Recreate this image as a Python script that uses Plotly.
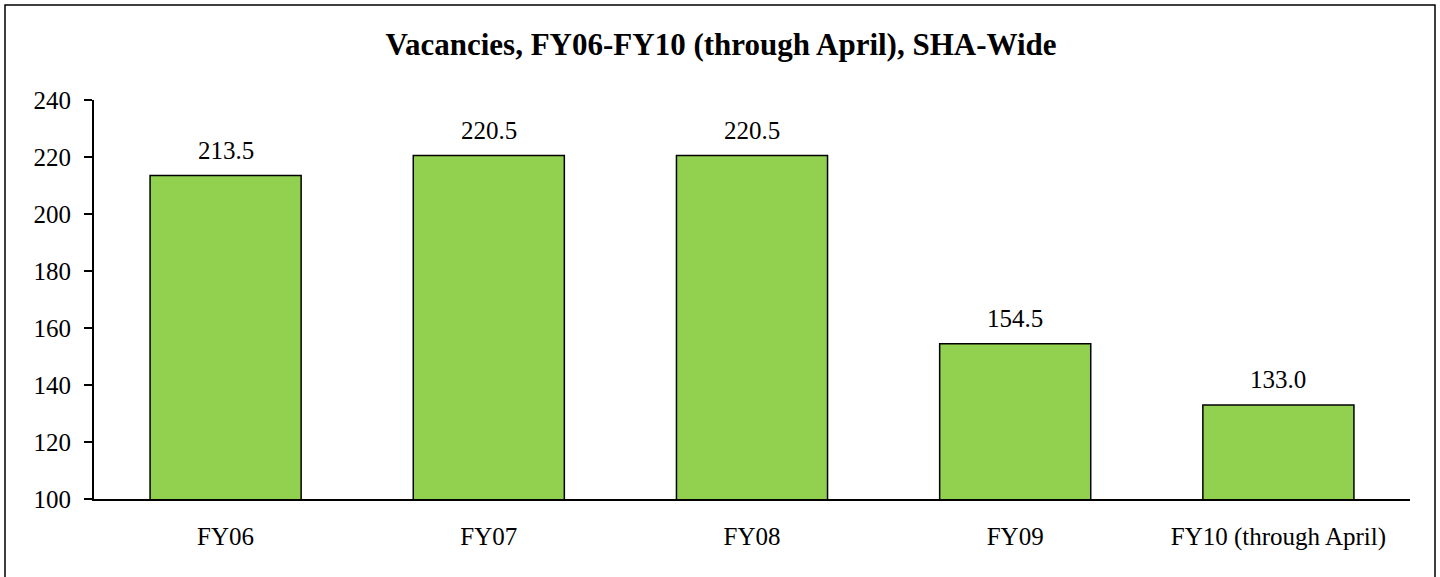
import plotly.graph_objects as go

categories = ["FY06", "FY07", "FY08", "FY09", "FY10 (through April)"]
vacancies = [213.5, 220.5, 220.5, 154.5, 133.0]
y_ticks = [100, 120, 140, 160, 180, 200, 220, 240]

FONT = "Liberation Serif, Times New Roman, serif"

fig = go.Figure()
fig.add_trace(go.Bar(
    x=categories, y=vacancies,
    marker=dict(color="#92D050", line=dict(color="black", width=1.5)),
    hoverinfo="x+y",
))

for c, v in zip(categories, vacancies):
    fig.add_annotation(x=c, y=v, text=f"{v:.1f}", showarrow=False,
                       yanchor="bottom", yshift=10,
                       font=dict(family=FONT, size=25, color="black"))

pl, pr, pt, pb = 94, 1410, 100, 499
W, H = 1440, 577
pw, ph = pr - pl, pb - pt
fig.add_shape(type="rect", xref="paper", yref="paper",
              x0=(5 - pl) / pw, x1=(1435 - pl) / pw,
              y0=(pb - 590) / ph, y1=(pb - 5) / ph,
              line=dict(color="black", width=1.5), fillcolor="rgba(0,0,0,0)",
              layer="below")

fig.update_layout(
    width=W, height=H,
    margin=dict(l=pl, r=W - pr, t=pt, b=H - pb),
    paper_bgcolor="white", plot_bgcolor="white",
    bargap=0.426,
    showlegend=False,
    title=dict(text="<b>Vacancies, FY06-FY10 (through April), SHA-Wide</b>",
               x=721 / W, xanchor="center", y=1 - 44 / H, yanchor="middle",
               font=dict(family=FONT, size=31, color="black")),
    font=dict(family=FONT, size=25, color="black"),
    xaxis=dict(showline=True, linecolor="black", linewidth=2, ticks="",
               showgrid=False, tickfont=dict(family=FONT, size=25, color="black"),
               ticklabelstandoff=14),
    yaxis=dict(range=[100, 240], tickvals=y_ticks, showline=True, linecolor="black",
               linewidth=2, ticks="outside", ticklen=8, tickwidth=2, tickcolor="black",
               showgrid=False, zeroline=False,
               tickfont=dict(family=FONT, size=25, color="black"),
               ticklabelstandoff=8),
)

fig.write_html("out.html", config={"displayModeBar": False},
               post_script="document.body.style.margin='0';document.body.style.overflow='hidden';")
